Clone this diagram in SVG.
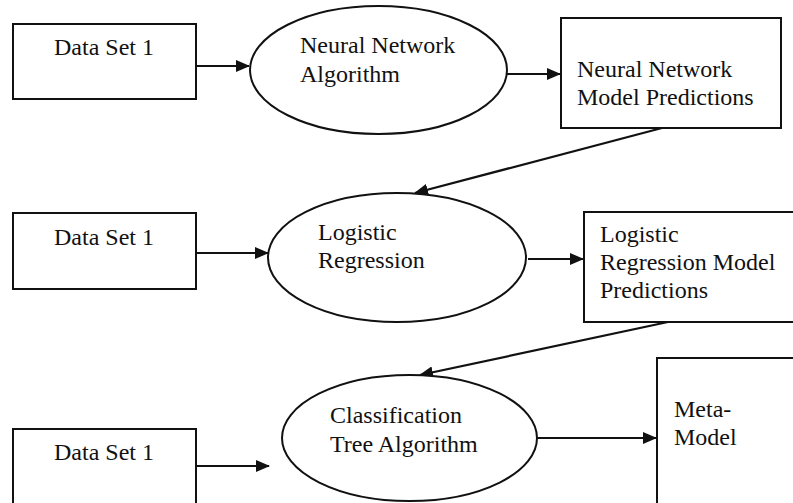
<svg xmlns="http://www.w3.org/2000/svg" width="793" height="503" viewBox="0 0 793 503">
<style>
.box{fill:#fff;stroke:#111;stroke-width:2}
.ell{fill:#fff;stroke:#111;stroke-width:2}
.t{font-family:"Liberation Serif","Times New Roman",serif;font-size:24px;fill:#111}
.c{fill:none;stroke:#111;stroke-width:2.2;marker-end:url(#ah)}
</style>
<defs>
<marker id="ah" markerUnits="userSpaceOnUse" markerWidth="14" markerHeight="12" refX="13" refY="6" orient="auto">
<path d="M0,0 L14,6 L0,12 Z" fill="#111"/>
</marker>
</defs>
<rect width="793" height="503" fill="#fff"/>
<g id="connectors">
<line class="c" x1="196" y1="66" x2="249" y2="66"/>
<line class="c" x1="507" y1="74" x2="560" y2="74"/>
<line class="c" x1="662" y1="128" x2="415" y2="193"/>
<line class="c" x1="196" y1="253" x2="268" y2="253"/>
<line class="c" x1="528" y1="259" x2="583" y2="259"/>
<line class="c" x1="668" y1="322" x2="420" y2="375"/>
<line class="c" x1="196" y1="466" x2="269" y2="466"/>
<line class="c" x1="537" y1="438" x2="656" y2="438"/>
</g>
<g id="ds1">
<rect class="box" x="13" y="24" width="183" height="75"/>
<text class="t" x="54" y="55">Data Set 1</text>
</g>
<g id="nn">
<ellipse class="ell" cx="378.5" cy="70" rx="128.5" ry="64"/>
<text class="t" x="300" y="53">Neural Network</text>
<text class="t" x="300" y="82">Algorithm</text>
</g>
<g id="nnpred">
<rect class="box" x="561" y="18" width="220" height="110"/>
<text class="t" x="577" y="77">Neural Network</text>
<text class="t" x="577" y="105">Model Predictions</text>
</g>
<g id="ds2">
<rect class="box" x="13" y="213" width="183" height="76"/>
<text class="t" x="54" y="245">Data Set 1</text>
</g>
<g id="lr">
<ellipse class="ell" cx="397" cy="257.5" rx="129" ry="64.5"/>
<text class="t" x="318" y="240">Logistic</text>
<text class="t" x="318" y="268">Regression</text>
</g>
<g id="lrpred">
<rect class="box" x="584" y="212" width="220" height="110"/>
<text class="t" x="600" y="242">Logistic</text>
<text class="t" x="600" y="270">Regression Model</text>
<text class="t" x="600" y="298">Predictions</text>
</g>
<g id="ds3">
<rect class="box" x="13" y="429" width="183" height="90"/>
<text class="t" x="54" y="460">Data Set 1</text>
</g>
<g id="ct">
<ellipse class="ell" cx="409.5" cy="438" rx="127.5" ry="63"/>
<text class="t" x="330" y="423">Classification</text>
<text class="t" x="330" y="452">Tree Algorithm</text>
</g>
<g id="meta">
<rect class="box" x="657" y="358" width="160" height="170"/>
<text class="t" x="674" y="417">Meta-</text>
<text class="t" x="674" y="445">Model</text>
</g>
</svg>
